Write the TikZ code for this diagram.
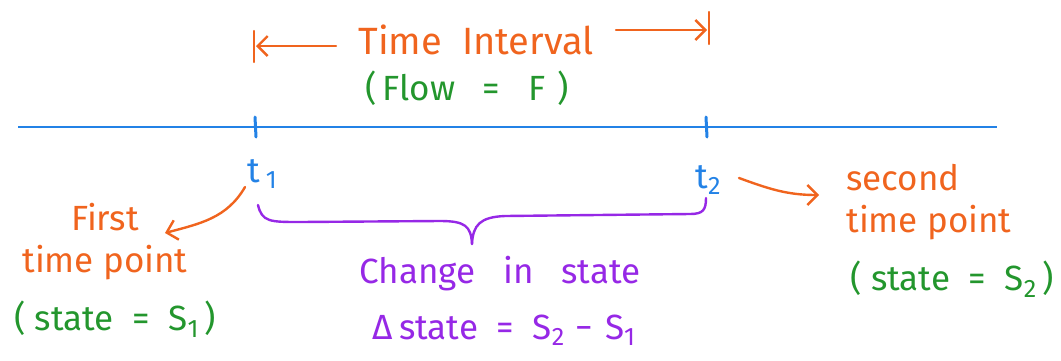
\documentclass[tikz,border=0pt]{standalone}
\usepackage{fontspec}
\setmainfont{Fira Sans}
\usetikzlibrary{arrows.meta}
\definecolor{myorange}{RGB}{240,100,30}
\definecolor{mygreen}{RGB}{35,150,45}
\definecolor{myblue}{RGB}{35,130,230}
\definecolor{mypurple}{RGB}{150,40,230}
\newcommand\lowsub[1]{\raisebox{-0.35ex}{\scalebox{0.72}{#1}}}
\tikzset{
  lbl/.style={inner sep=0pt, align=center, font=\fontsize{35}{42}\selectfont},
  orangetxt/.style={lbl, text=myorange},
  greentxt/.style={lbl, text=mygreen},
  bluetxt/.style={lbl, text=myblue},
  purpletxt/.style={lbl, text=mypurple},
  arr/.style={myorange, line width=2.4pt, line cap=round, -{Straight Barb[length=10pt,width=20pt,line width=2.4pt]}},
  pen/.style={line width=2.4pt, line cap=round, line join=round}
}
\begin{document}
\begin{tikzpicture}[x=1pt,y=-1pt]
\useasboundingbox (0,0) rectangle (1061,360);
% time line
\coordinate (L) at (18,127);
\coordinate (R) at (997,127);
\draw[myblue, line width=2.8pt] (L) -- (R);
\coordinate (T1a) at (255,117); \coordinate (T1b) at (256,137);
\coordinate (T2a) at (706,117); \coordinate (T2b) at (707,137);
\draw[myblue, pen, line width=3pt] (T1a) -- (T1b);
\draw[myblue, pen, line width=3pt] (T2a) -- (T2b);
% time interval
\node[orangetxt, font=\fontsize{38}{42}\selectfont] (ti) at (476,40) {Time\hspace{20pt}Interval};
\node[greentxt] (flow) at (467,88) {(\,Flow\ \ \ =\ \ \ F\,\,)};
\coordinate (lb1) at (254,31); \coordinate (lb2) at (254,62);
\coordinate (rb1) at (709,12); \coordinate (rb2) at (709,44);
\draw[myorange, pen] (lb1) -- (lb2);
\draw[myorange, pen] (rb1) -- (rb2);
\coordinate (la) at (336,46); \coordinate (lae) at (256,46);
\coordinate (ra) at (616,30); \coordinate (rae) at (707,30);
\draw[arr] (la) -- (lae);
\draw[arr] (ra) -- (rae);
% time points
\node[bluetxt] (t1) at (262,174) {t\,\lowsub{1}};
\node[bluetxt] (t2) at (708,180) {t\lowsub{2}};
% first time point
\node[orangetxt] (first) at (105,242) {First\\time point};
\node[greentxt] (s1) at (115,319) {(\ state\ \ =\ \ S\lowsub{1}\,)};
\coordinate (a1s) at (245,187); \coordinate (a1e) at (165,233);
\draw[arr] (a1s) to[out=240,in=15] (a1e);
% second time point
\node[orangetxt, align=left] (second) at (929,202) {second\\time point};
\node[greentxt] (s2) at (952,279) {(\ state\ \ =\ \ S\lowsub{2}\,)};
\coordinate (a2s) at (739,178); \coordinate (a2e) at (819,195);
\draw[arr] (a2s) to[out=-20,in=180] (a2e);
% brace
\coordinate (b1) at (258,205);
\coordinate (bm) at (472,244);
\coordinate (b2) at (706,198);
\draw[mypurple, pen] (b1) .. controls (262,222) and (270,222) .. (300,222)
  -- (440,221) .. controls (465,221) and (471,226) .. (bm);
\draw[mypurple, pen] (bm) .. controls (473,225) and (480,217) .. (505,216)
  -- (690,214) .. controls (703,214) and (706,210) .. (b2);
\node[purpletxt] (change) at (500,274) {Change\ \ \ in\ \ \ state};
\node[purpletxt] (delta) at (504,330) {Δ\,state\ \ =\ \ S\lowsub{2}\,\,−\,\,S\lowsub{1}};
\end{tikzpicture}
\end{document}
